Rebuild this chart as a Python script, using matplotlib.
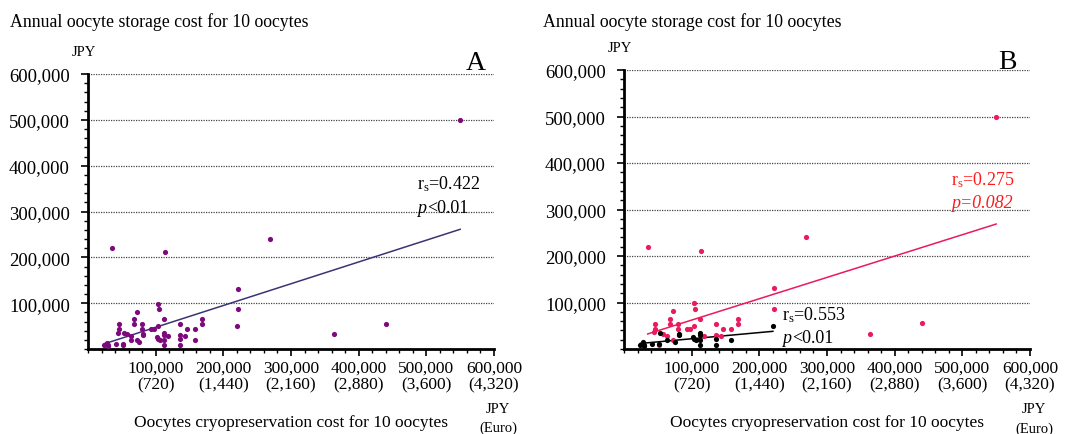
import numpy as np
import matplotlib
matplotlib.use("Agg")
import matplotlib.pyplot as plt
from matplotlib.ticker import MultipleLocator

plt.rcParams['font.family'] = ['Liberation Serif', 'DejaVu Serif']
plt.rcParams['mathtext.fontset'] = 'custom'
plt.rcParams['mathtext.rm'] = 'Liberation Serif'
plt.rcParams['mathtext.it'] = 'Liberation Serif:italic'

# ---------------- data (thousand JPY) ----------------
# group 1 (pink in panel B)
g1_cryo = [35, 114, 269, 222, 222, 363, 440, 550, 103.5, 105, 72, 46, 46, 44, 68, 68,
           58, 63, 72, 80, 80, 92.6, 97.5, 103.5, 113, 118, 136, 136, 146, 144, 158,
           169, 169, 52]
g1_store = [220, 211, 241, 131, 87, 33, 55, 500, 99, 87, 81, 54, 43, 36, 65, 54,
            32, 28, 20, 54, 44, 44, 44, 49.5, 65, 29, 54.5, 31, 43.6, 29, 43.6,
            65, 54, 9]
# group 2 (black in panel B)
g2_cryo = [220, 53, 64, 76, 82, 82, 101.5, 103.5, 113, 113, 113, 113, 107, 136, 136,
           158, 26.6, 30, 30, 41, 52, 24, 28]
g2_store = [50, 34, 20, 15, 32, 30, 25.5, 22, 35, 20, 9.4, 30, 20, 22, 9.4,
            20, 11.6, 9, 6, 11.6, 11.6, 9, 14]

x_ticks = [100000, 200000, 300000, 400000, 500000, 600000]
euro_labels = ["720", "1,440", "2,160", "2,880", "3,600", "4,320"]
y_ticks = [100000, 200000, 300000, 400000, 500000, 600000]

stats_A = ("0.422", "<0.01")
stats_B1 = ("0.275", "=0.082")
stats_B2 = ("0.553", "<0.01")

g1x = np.array(g1_cryo) * 1000
g1y = np.array(g1_store) * 1000
g2x = np.array(g2_cryo) * 1000
g2y = np.array(g2_store) * 1000
allx = np.concatenate([g1x, g2x])
ally = np.concatenate([g1y, g2y])

PURPLE = "#7d0a7d"
NAVY = "#3a3474"
PINK = "#ea1a5c"
RED = "#ff1a1a"

fig = plt.figure(figsize=(10.68, 4.35), dpi=100)


def style_axes(ax):
    ax.set_xlim(0, 600000)
    ax.set_ylim(0, 600000)
    for s in ("top", "right"):
        ax.spines[s].set_visible(False)
    ax.spines["left"].set_linewidth(2.0)
    ax.spines["bottom"].set_linewidth(2.0)
    ax.set_xticks(x_ticks)
    ax.set_xticklabels([f"{v:,}\n({e})" for v, e in zip(x_ticks, euro_labels)],
                       fontsize=12.5, linespacing=1.0)
    ax.set_yticks(y_ticks)
    ax.set_yticklabels([f"{v:,}" for v in y_ticks], fontsize=13.5)
    ax.xaxis.set_minor_locator(MultipleLocator(20000))
    ax.yaxis.set_minor_locator(MultipleLocator(20000))
    ax.tick_params(axis="both", which="major", direction="out", length=5, width=1.2)
    ax.tick_params(axis="y", which="major", pad=8)
    ax.tick_params(axis="x", which="major", pad=3)
    ax.tick_params(axis="both", which="minor", direction="out", length=3, width=1.0)
    ax.grid(axis="y", which="major", linestyle=(0, (1, 1)), color="#444444", linewidth=0.9)
    ax.set_axisbelow(True)
    ax.set_xlabel("Oocytes cryopreservation cost for 10 oocytes", fontsize=12.5, labelpad=16)
    ax.text(1.01, -0.215, "JPY", transform=ax.transAxes, ha="center", va="center", fontsize=10.5)
    ax.text(1.01, -0.285, "(Euro)", transform=ax.transAxes, ha="center", va="center", fontsize=10.5)
    ax.text(-0.01, 1.08, "JPY", transform=ax.transAxes, ha="center", va="center", fontsize=10.5)


def trend(ax, x, y, color, lw=1.1):
    k, b = np.polyfit(x, y, 1)
    xs = np.array([x.min(), x.max()])
    ax.plot(xs, k * xs + b, color=color, lw=lw, zorder=2)


# ---------------- Panel A ----------------
axA = fig.add_axes([88 / 1068, 85 / 435, 406 / 1068, 275 / 435])
style_axes(axA)
axA.scatter(allx, ally, s=14, color=PURPLE, zorder=3, linewidths=0)
trend(axA, allx, ally, NAVY)
axA.text(0.81, 0.583, r"r$_\mathrm{s}$=" + stats_A[0], transform=axA.transAxes, fontsize=13)
axA.text(0.81, 0.497, "p", transform=axA.transAxes, fontsize=13, fontstyle="italic")
axA.text(0.835, 0.497, stats_A[1], transform=axA.transAxes, fontsize=13)
axA.text(0.955, 1.04, "A", transform=axA.transAxes, ha="center", va="center", fontsize=20)
fig.text(10 / 1068, 1 - 22 / 435, "Annual oocyte storage cost for 10 oocytes",
         ha="left", va="center", fontsize=12.8)

# ---------------- Panel B ----------------
axB = fig.add_axes([624 / 1068, 85 / 435, 406 / 1068, 279 / 435])
style_axes(axB)
axB.scatter(g1x, g1y, s=14, color=PINK, zorder=3, linewidths=0)
axB.scatter(g2x, g2y, s=14, color="black", zorder=4, linewidths=0)
trend(axB, g1x, g1y, PINK)
trend(axB, g2x, g2y, "black")
axB.text(0.805, 0.59, r"r$_\mathrm{s}$=" + stats_B1[0], transform=axB.transAxes,
         fontsize=13, color=RED)
axB.text(0.805, 0.51, "p" + stats_B1[1], transform=axB.transAxes,
         fontsize=13, color=RED, fontstyle="italic")
axB.text(0.39, 0.105, r"r$_\mathrm{s}$=" + stats_B2[0], transform=axB.transAxes, fontsize=13)
axB.text(0.39, 0.025, "p", transform=axB.transAxes, fontsize=13, fontstyle="italic")
axB.text(0.415, 0.025, stats_B2[1], transform=axB.transAxes, fontsize=13)
axB.text(0.945, 1.03, "B", transform=axB.transAxes, ha="center", va="center", fontsize=20)
fig.text(543 / 1068, 1 - 22 / 435, "Annual oocyte storage cost for 10 oocytes",
         ha="left", va="center", fontsize=12.8)

fig.savefig("out.png", dpi=100)
